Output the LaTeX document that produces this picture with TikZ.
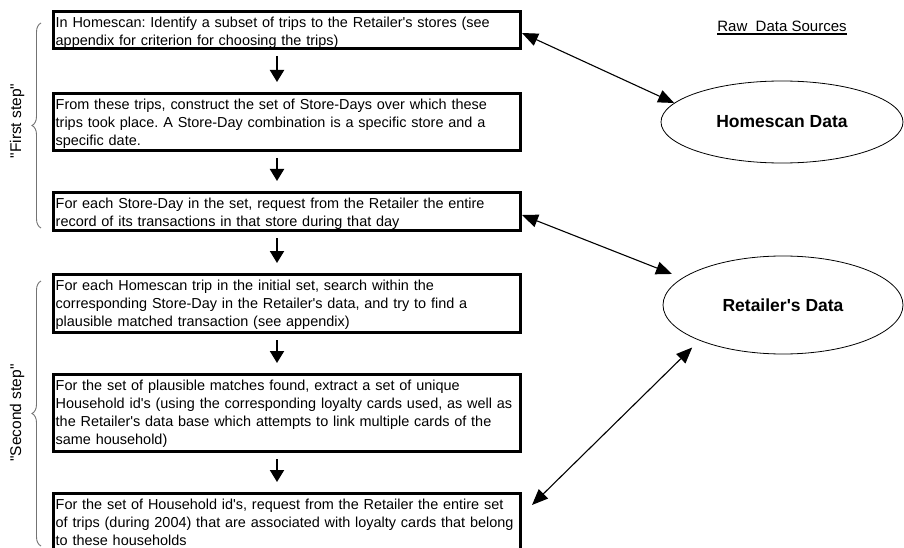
\documentclass[tikz,border=0pt]{standalone}
\usepackage{fontspec}
\setmainfont{Liberation Sans}[Ligatures=TeXOff]
\usetikzlibrary{shapes.geometric,arrows.meta,decorations.pathreplacing}
\frenchspacing
\begin{document}
\begin{tikzpicture}[x=1pt,y=-1pt,
  stepbox/.style={draw,line width=3pt,anchor=north west,minimum width=467pt,inner sep=0pt},
  steptext/.style={anchor=north west,inner sep=0pt,text width=520pt,align=left,font=\fontsize{14.45}{18.2}\selectfont},
  dnarrow/.style={line width=2pt,-{Triangle[length=12pt,width=14pt]},shorten <=6pt,shorten >=10pt},
  biarrow/.style={line width=1.1pt,{Triangle[length=16pt,width=13pt]}-{Triangle[length=16pt,width=13pt]}},
  source/.style={draw,ellipse,line width=0.8pt,inner sep=0pt,font=\fontsize{17.5}{20}\selectfont\bfseries},
  stepbrace/.style={draw=black!55,line width=0.9pt,decorate,decoration={brace,amplitude=9pt}},
  steplabel/.style={rotate=90,inner sep=0pt,font=\fontsize{15.5}{18}\selectfont}]
\useasboundingbox (0,0) rectangle (904,548);
\clip (0,0) rectangle (904,548);

% step boxes
\node[stepbox, minimum height=37pt] (b1) at (52,10) {};
\node[stepbox, minimum height=57pt] (b2) at (52,92) {};
\node[stepbox, minimum height=38pt] (b3) at (52,191) {};
\node[stepbox, minimum height=58pt] (b4) at (52,273) {};
\node[stepbox, minimum height=77pt] (b5) at (52,373) {};
\node[stepbox, minimum height=59pt] (b6) at (52,492) {};

\node[steptext] (t1) at ([xshift=3.5pt,yshift=-6.5pt]b1.north west) {In Homescan: Identify a subset of trips to the Retailer's stores (see\\appendix for criterion for choosing the trips)};
\node[steptext] (t2) at ([xshift=3.5pt,yshift=-6.5pt]b2.north west) {From these trips, construct the set of Store-Days over which these\\trips took place. A Store-Day combination is a specific store and a\\specific date.};
\node[steptext] (t3) at ([xshift=3.5pt,yshift=-6.5pt]b3.north west) {For each Store-Day in the set, request from the Retailer the entire\\record of its transactions in that store during that day};
\node[steptext] (t4) at ([xshift=3.5pt,yshift=-6.5pt]b4.north west) {For each Homescan trip in the initial set, search within the\\corresponding Store-Day in the Retailer's data, and try to find a\\plausible matched transaction (see appendix)};
\node[steptext] (t5) at ([xshift=3.5pt,yshift=-6.5pt]b5.north west) {For the set of plausible matches found, extract a set of unique\\Household id's (using the corresponding loyalty cards used, as well as\\the Retailer's data base which attempts to link multiple cards of the\\same household)};
\node[steptext] (t6) at ([xshift=3.5pt,yshift=-6.5pt]b6.north west) {For the set of Household id's, request from the Retailer the entire set\\of trips (during 2004) that are associated with loyalty cards that belong\\to these households};

% down arrows
\draw[dnarrow] ([xshift=-10pt]b1.south) -- ([xshift=-10pt]b2.north);
\draw[dnarrow] ([xshift=-10pt]b2.south) -- ([xshift=-10pt]b3.north);
\draw[dnarrow] ([xshift=-10pt]b3.south) -- ([xshift=-10pt]b4.north);
\draw[dnarrow] ([xshift=-10pt]b4.south) -- ([xshift=-10pt]b5.north);
\draw[dnarrow] ([xshift=-10pt]b5.south) -- ([xshift=-10pt]b6.north);

% data sources
\node[anchor=base,inner sep=0pt,font=\fontsize{15}{18}\selectfont] (rds) at (782,32) {Raw~~Data Sources};
\draw[line width=2pt] ([yshift=-1.5pt]rds.south west) -- ([yshift=-1.5pt]rds.south east);
\node[source, minimum width=242pt, minimum height=82pt] (hs) at (782,122) {Homescan Data};
\node[source, minimum width=240pt, minimum height=98pt] (re) at (783,305) {Retailer's Data};

\draw[biarrow] ([yshift=-3pt]b1.east) -- (hs.170);
\draw[biarrow, shorten >=11pt] ([yshift=-3.5pt]b3.east) -- (re.165);
\draw[biarrow, shorten >=10pt] ([xshift=10pt,yshift=18pt]b6.east) -- (re.203);

% braces
\coordinate (f1) at (41,228);
\coordinate (f2) at (41,23);
\coordinate (s1) at (41,546);
\coordinate (s2) at (41,281);
\draw[stepbrace] (f1) -- (f2);
\draw[stepbrace] (s1) -- (s2);
\node[steplabel] (l1) at (17,121) {"First step"};
\node[steplabel] (l2) at (17,413) {"Second step"};
\end{tikzpicture}
\end{document}
